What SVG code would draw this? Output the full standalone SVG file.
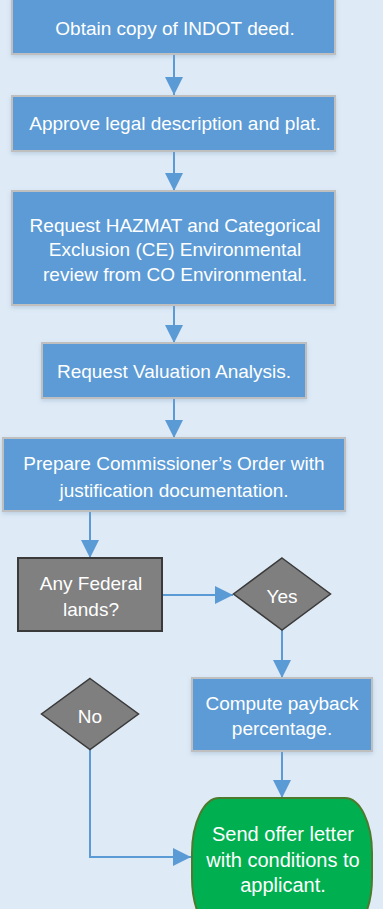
<svg xmlns="http://www.w3.org/2000/svg" width="383" height="909" viewBox="0 0 383 909">
<style>
.bg{fill:#DEEAF6}
.box{fill:#5B9BD5;stroke:#BFBFBF;stroke-width:2;filter:url(#sh)}
.dec{fill:#808080;stroke:#3A3A3A;stroke-width:2}
.dia{fill:#7F7F7F;stroke:#3A3A3A;stroke-width:1.5}
.term{fill:#00B050;stroke:#4E7A2E;stroke-width:2}
.t{font-family:"Liberation Sans",Arial,sans-serif;font-size:19px;fill:#FFFFFF;text-anchor:middle}
.tg{font-size:20px}
.c{fill:none;stroke:#5B9BD5;stroke-width:2;marker-end:url(#ah)}
</style>
<defs>
<marker id="ah" markerUnits="userSpaceOnUse" markerWidth="18" markerHeight="18" refX="18" refY="9" orient="auto">
<path d="M0,0 L18,9 L0,18 z" fill="#5B9BD5"/>
</marker>
<filter id="sh" x="-10%" y="-10%" width="120%" height="130%">
<feDropShadow dx="0" dy="2" stdDeviation="2" flood-color="#7F9FBF" flood-opacity="0.35"/>
</filter>
</defs>
<rect class="bg" x="0" y="0" width="383" height="909"/>
<g id="connectors">
<path class="c" d="M174,54 V95"/>
<path class="c" d="M174,151 V191"/>
<path class="c" d="M174,305 V343"/>
<path class="c" d="M174,398 V438"/>
<path class="c" d="M90,511 V558"/>
<path class="c" d="M162,595 H233"/>
<path class="c" d="M282,630 V678"/>
<path class="c" d="M90,749 V857 H191"/>
<path class="c" d="M282,751 V798"/>
</g>
<g id="n1"><rect class="box" x="12" y="-4" width="323" height="58"/>
<text class="t" x="175" y="35">Obtain copy of INDOT deed.</text></g>
<g id="n2"><rect class="box" x="12" y="96" width="323" height="55"/>
<text class="t" x="175" y="130">Approve legal description and plat.</text></g>
<g id="n3"><rect class="box" x="12" y="191" width="323" height="114"/>
<text class="t" x="175" y="231.5">Request HAZMAT and Categorical</text>
<text class="t" x="175" y="256">Exclusion (CE) Environmental</text>
<text class="t" x="175" y="280.5">review from CO Environmental.</text></g>
<g id="n4"><rect class="box" x="42" y="343" width="264" height="55"/>
<text class="t" x="174" y="377.5">Request Valuation Analysis.</text></g>
<g id="n5"><rect class="box" x="3" y="438" width="342" height="73"/>
<text class="t" x="174" y="470">Prepare Commissioner’s Order with</text>
<text class="t" x="174" y="496.5">justification documentation.</text></g>
<g id="n6"><rect class="dec" x="18" y="558" width="144" height="73"/>
<text class="t" x="91" y="589.5">Any Federal</text>
<text class="t" x="91" y="616">lands?</text></g>
<g id="n7"><polygon class="dia" points="282,558 330.5,594 282,630 233.5,594"/>
<text class="t" x="282" y="602.5">Yes</text></g>
<g id="n8"><rect class="box" x="192" y="678" width="180" height="73"/>
<text class="t" x="282" y="710">Compute payback</text>
<text class="t" x="282" y="735">percentage.</text></g>
<g id="n9"><polygon class="dia" points="90,678.5 138.5,714 90,749.5 41.5,714"/>
<text class="t" x="90" y="722.5">No</text></g>
<g id="n10"><rect class="term" x="192" y="798" width="180" height="135" rx="27" ry="55"/>
<text class="t tg" x="283" y="840.5">Send offer letter</text>
<text class="t tg" x="283" y="866.5">with conditions to</text>
<text class="t tg" x="283" y="891.5">applicant.</text></g>
</svg>
